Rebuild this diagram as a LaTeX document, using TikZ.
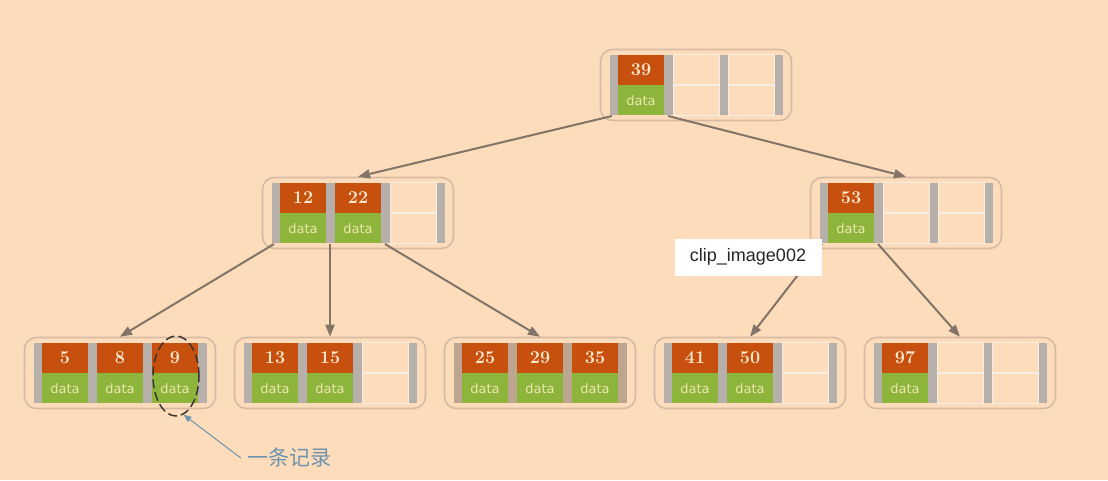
\documentclass[tikz,border=0pt]{standalone}
\usepackage{fontspec}
\newfontfamily\cjk{Noto Sans CJK SC}
\newfontfamily\datafont{DejaVu Sans}
\newfontfamily\clipfont{Liberation Sans}
\usetikzlibrary{arrows.meta,shapes.geometric}

\definecolor{bg}{HTML}{FDDCBB}
\definecolor{boxline}{HTML}{D6BBA2}
\definecolor{bargray}{HTML}{B7B0AA}
\definecolor{barbrown}{HTML}{BDA58F}
\definecolor{keyorange}{HTML}{C8500E}
\definecolor{keytext}{HTML}{F8E9CC}
\definecolor{datagreen}{HTML}{8DB43B}
\definecolor{datatext}{HTML}{EDE7B0}
\definecolor{nilline}{HTML}{F6EDE5}
\definecolor{ptr}{HTML}{827568}
\definecolor{notecol}{HTML}{6E93AD}
\definecolor{recline}{HTML}{3C3530}

\tikzset{
  box/.style={draw=boxline,line width=1.6pt,rounded corners=12pt,minimum width=191pt,minimum height=71pt,inner sep=0pt},
  strip/.style={fill=bargray,minimum width=173pt,minimum height=60pt,inner sep=0pt},
  cell/.style={minimum width=46pt,minimum height=30pt,inner sep=0pt},
  keycell/.style={cell,fill=keyorange,text=keytext,font=\bfseries\fontsize{18}{18}\selectfont},
  datacell/.style={cell,fill=datagreen,text=datatext,font=\datafont\fontsize{13}{13}\selectfont},
  nilcell/.style={cell,fill=bg,draw=nilline,line width=1pt},
  link/.style={draw=ptr,line width=2pt,-{Triangle[length=12pt,width=9pt]}},
}

% one slot: key over data, or two empty cells
\newcommand{\btslot}[5]{%
  \if\relax\detokenize{#5}\relax
    \node[nilcell,above] (#1-k#2) at (#3,#4) {};
    \node[nilcell,below] (#1-d#2) at (#3,#4) {};
  \else
    \node[keycell,above] (#1-k#2) at (#3,#4) {#5};
    \node[datacell,below] (#1-d#2) at (#3,#4) {data};
  \fi}
% one tree node with three slots and four pointers
\newcommand{\btnode}[7][bargray]{%
  \node[box] (#2) at (#3,#4) {};
  \node[strip,fill=#1] (#2-s) at (#3,#4) {};
  \btslot{#2}{1}{#3-55}{#4}{#5}%
  \btslot{#2}{2}{#3}{#4}{#6}%
  \btslot{#2}{3}{#3+55}{#4}{#7}%
  \foreach \i/\dx in {0/-84,1/-28,2/27,3/82}
    \coordinate (#2-p\i) at ([shift={(\dx,31)}]#3,#4);
}

\begin{document}
\begin{tikzpicture}[x=1pt,y=-1pt]
  \fill[bg] (0,0) rectangle (1108,480);
  \useasboundingbox (0,0) rectangle (1108,480);
  % nodes
  \btnode{root}{696}{85}{39}{}{}
  \btnode{a}{358}{213}{12}{22}{}
  \btnode{b}{906}{213}{53}{}{}
  \btnode{a1}{120}{373}{5}{8}{9}
  \btnode{a2}{330}{373}{13}{15}{}
  \btnode[barbrown]{a3}{540}{373}{25}{29}{35}
  \btnode{b1}{750}{373}{41}{50}{}
  \btnode{b2}{960}{373}{97}{}{}
  % links
  \draw[link] (root-p0) -- (a.north);
  \draw[link] (root-p1) -- (b.north);
  \draw[link] (a-p0) -- (a1.north);
  \draw[link] (a-p1) -- (a2.north);
  \draw[link] (a-p2) -- (a3.north);
  \draw[link] (b-p0) -- (b1.north);
  \draw[link] (b-p1) -- (b2.north);
  % record
  \node[ellipse,draw=recline,line width=1.5pt,dash pattern=on 9pt off 4pt,minimum width=46pt,minimum height=80pt,inner sep=0pt] (rec) at (176,376) {};
  \node[text=notecol,font=\cjk\fontsize{21}{21}\selectfont,inner sep=0pt] (note) at (289,458) {一条记录};
  \draw[notecol,line width=1pt,-{Triangle[length=8pt,width=6pt]}] ([xshift=-6pt]note.west) -- (rec.-79);
  % clip label
  \node[fill=white,minimum width=147pt,minimum height=37pt,text=black!85,font=\clipfont\fontsize{18}{18}\selectfont] (clip) at (748,257) {clip\_image002};
\end{tikzpicture}
\end{document}
